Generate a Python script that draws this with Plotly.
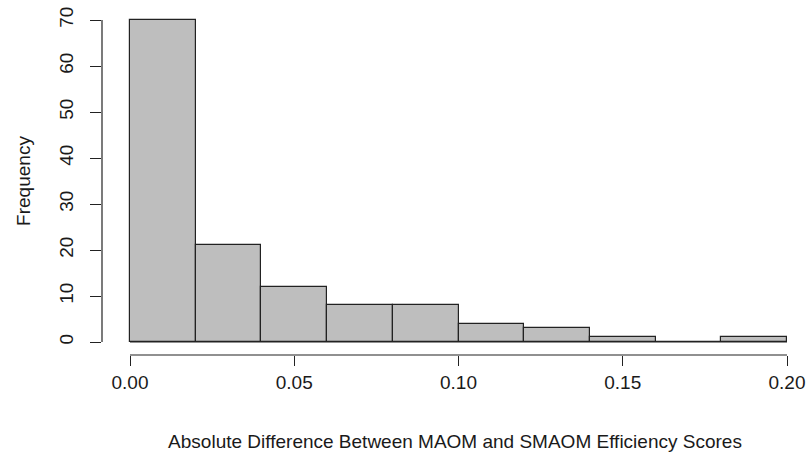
import plotly.graph_objects as go

bin_edges = [0.00, 0.02, 0.04, 0.06, 0.08, 0.10, 0.12, 0.14, 0.16, 0.18, 0.20]
frequency = [70, 21, 12, 8, 8, 4, 3, 1, 0, 1]
x_ticks = [0.00, 0.05, 0.10, 0.15, 0.20]
x_tick_labels = ["0.00", "0.05", "0.10", "0.15", "0.20"]
y_ticks = [0, 10, 20, 30, 40, 50, 60, 70]
y_tick_labels = [str(v) for v in y_ticks]

centers = [(a + b) / 2 for a, b in zip(bin_edges[:-1], bin_edges[1:])]
widths = [b - a for a, b in zip(bin_edges[:-1], bin_edges[1:])]

FONT = "Liberation Sans, Arial, sans-serif"
TXT = "#1a1a1a"
FS = 19

fig = go.Figure()
# baseline of the histogram (R draws zero-height rectangles as a line)
fig.add_trace(go.Scatter(
    x=[bin_edges[0], bin_edges[-1]], y=[0, 0], mode="lines",
    line=dict(color="#222222", width=1.2), hoverinfo="skip", showlegend=False))
fig.add_trace(go.Bar(
    x=centers, y=frequency, width=widths,
    marker=dict(color="#BEBEBE", line=dict(color="#222222", width=1.2)),
    showlegend=False))

fig.update_layout(
    width=808, height=452,
    margin=dict(l=102, r=0, t=7, b=97),
    paper_bgcolor="white", plot_bgcolor="white",
    bargap=0,
    font=dict(family=FONT, color=TXT, size=FS),
    xaxis=dict(
        range=[-28 / 3285, 0.2 + 21 / 3285],
        automargin=False,
        tickvals=x_ticks, ticktext=x_tick_labels,
        ticks="outside", ticklen=10, tickwidth=1.2, tickcolor="#222222",
        showgrid=False, zeroline=False, showline=False,
        tickfont=dict(size=FS, color=TXT),
        title=dict(text="Absolute Difference Between MAOM and SMAOM Efficiency Scores",
                   font=dict(size=FS, color=TXT), standoff=42),
    ),
    yaxis=dict(
        range=[-13 / 4.6, 70 + 13 / 4.6],
        automargin=False,
        tickvals=y_ticks, ticktext=y_tick_labels,
        ticks="outside", ticklen=11, tickwidth=1.2, tickcolor="#222222",
        tickangle=-90, ticklabelstandoff=9,
        showgrid=False, zeroline=False, showline=False,
        tickfont=dict(size=FS, color=TXT),
        title=dict(text="Frequency", font=dict(size=FS, color=TXT), standoff=20),
    ),
    shapes=[
        dict(type="line", xref="x", yref="paper", x0=x_ticks[0], x1=x_ticks[-1],
             y0=0, y1=0, line=dict(color="#222222", width=1.2)),
        dict(type="line", xref="paper", yref="y", x0=0, x1=0,
             y0=y_ticks[0], y1=y_ticks[-1], line=dict(color="#222222", width=1.2)),
    ],
)

fig.write_html("out.html", config={"displayModeBar": False},
               post_script="document.body.style.margin='0px';")
